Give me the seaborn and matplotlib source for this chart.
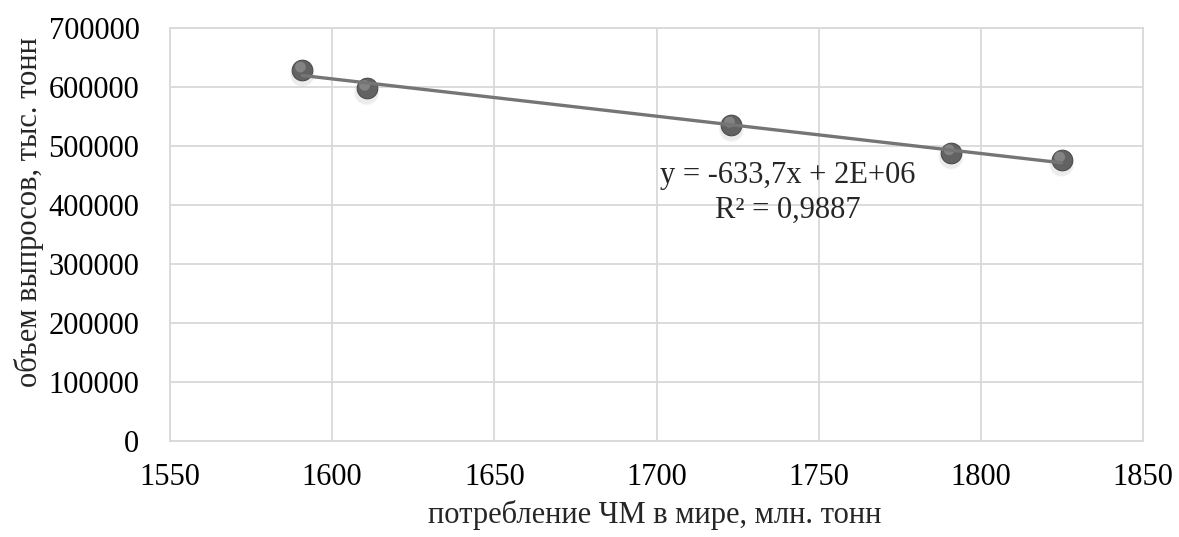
import numpy as np
import pandas as pd
import matplotlib
matplotlib.use("Agg")
import matplotlib.pyplot as plt
import seaborn as sns

# Data
consumption = [1590.8, 1610.6, 1723.1, 1790.8, 1824.9]   # потребление ЧМ, млн. тонн
emissions = [628300, 597300, 535100, 488100, 475800]     # объем выпросов, тыс. тонн
x_ticks = [1550, 1600, 1650, 1700, 1750, 1800, 1850]
y_ticks = [0, 100000, 200000, 300000, 400000, 500000, 600000, 700000]
eq_text = "y = -633,7x + 2E+06"
r2_text = "R² = 0,9887"
x_label = "потребление ЧМ в мире, млн. тонн"
y_label = "объем выпросов, тыс. тонн"

df = pd.DataFrame({"x": consumption, "y": emissions})

sns.set_theme(style="white")
plt.rcParams["font.family"] = ["Liberation Serif", "DejaVu Serif"]

fig = plt.figure(figsize=(11.79, 5.37), dpi=100)
ax = fig.add_axes([170 / 1179, 1 - 440.7 / 537, (1143 - 170) / 1179, (440.7 - 27.7) / 537])

grid_c = "#d9d9d9"
ax.set_xlim(1550, 1850)
ax.set_ylim(0, 700000)
ax.set_xticks(x_ticks)
ax.set_yticks(y_ticks)
ax.set_xticklabels([str(v) for v in x_ticks])
ax.set_yticklabels([str(v) for v in y_ticks])
ax.grid(True, color=grid_c, linewidth=1.3)
ax.set_axisbelow(True)
for s in ax.spines.values():
    s.set_color(grid_c)
    s.set_linewidth(1.3)
ax.tick_params(axis="both", length=0, labelsize=22, colors="black")
ax.tick_params(axis="x", pad=16)
ax.tick_params(axis="y", pad=22)

# shadow under markers
for dy, a, sz in [(-6000, 0.10, 320), (-9000, 0.08, 280)]:
    sns.scatterplot(x=df["x"], y=df["y"] + dy, ax=ax, s=sz, color="#9a9a9a",
                    alpha=a, edgecolor="none", legend=False, zorder=2)
# main markers
sns.scatterplot(data=df, x="x", y="y", ax=ax, s=220, color="#626262",
                edgecolor="#4d4d4d", linewidth=0.8, legend=False, zorder=3)
# highlight
sns.scatterplot(x=df["x"] - 0.6, y=df["y"] + 5000, ax=ax, s=60, color="#8c8c8c",
                alpha=0.8, edgecolor="none", legend=False, zorder=4)

# linear trendline
k, b = np.polyfit(df["x"], df["y"], 1)
tx = np.array([min(consumption), max(consumption)])
sns.lineplot(x=tx, y=k * tx + b, ax=ax, color="#757575", linewidth=2.4, zorder=5)

ax.text(1740.5, 450000, eq_text, ha="center", va="center", fontsize=22)
ax.text(1740.5, 391000, r2_text, ha="center", va="center", fontsize=22)

ax.set_xlabel("")
ax.set_ylabel("")
fig.text(655 / 1179, 1 - 515 / 537, x_label, ha="center", va="center", fontsize=22)
fig.text(29 / 1179, 1 - 212 / 537, y_label, ha="center", va="center", fontsize=22, rotation=90)

fig.savefig("out.png", dpi=100)
